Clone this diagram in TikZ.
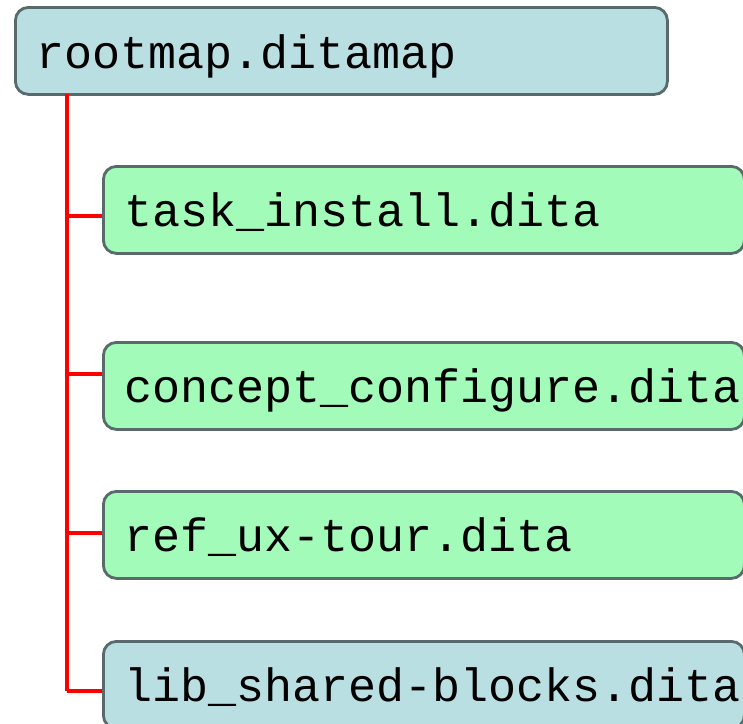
\documentclass[tikz,border=0pt]{standalone}
\usepackage{fontspec}
\setmonofont{Liberation Mono}
\definecolor{bluefill}{HTML}{B9DFE2}
\definecolor{greenfill}{HTML}{A3FBB9}
\definecolor{boxline}{HTML}{586A6A}
\definecolor{treered}{HTML}{FF0000}
\tikzset{
  filebox/.style={draw=boxline, line width=2.8pt, rounded corners=13pt, anchor=north west,
    minimum height=87pt, inner sep=0pt},
  mapbox/.style={filebox, fill=bluefill},
  topicbox/.style={filebox, fill=greenfill},
  lbl/.style={anchor=base west, inner sep=0pt, font=\ttfamily\fontsize{46.7}{50}\selectfont},
  tree/.style={draw=treered, line width=3.5pt}
}
\begin{document}
\begin{tikzpicture}[x=1pt, y=-1pt]
\useasboundingbox (0,0) rectangle (743,723);
\clip (0,0) rectangle (743,723);
% boxes
\node[mapbox, minimum width=652pt] (root) at (14,6) {};
\node[topicbox, minimum width=641pt] (task) at (102,165) {};
\node[topicbox, minimum width=641pt] (concept) at (102,341) {};
\node[topicbox, minimum width=641pt] (ref) at (102,490) {};
\node[mapbox, minimum width=641pt] (lib) at (102,640) {};
% labels
\node[lbl] (rootT) at (36,68) {rootmap.ditamap};
\node[lbl] (taskT) at (124,226) {task\_install.dita};
\node[lbl] (conceptT) at (124,402) {concept\_configure.dita};
\node[lbl] (refT) at (124,551) {ref\_ux-tour.dita};
\node[lbl] (libT) at (124,701) {lib\_shared-blocks.dita};
% tree connectors
\coordinate (trunkTop) at (67,94);
\coordinate (jTask) at (67,216);
\coordinate (jConcept) at (67,374);
\coordinate (jRef) at (67,533);
\coordinate (jLib) at (67,691);
\draw[tree] (trunkTop) -- (jLib);
\draw[tree] (jTask) -- (jTask -| task.west);
\draw[tree] (jConcept) -- (jConcept -| concept.west);
\draw[tree] (jRef) -- (jRef -| ref.west);
\draw[tree] (jLib) -- (jLib -| lib.west);
\end{tikzpicture}
\end{document}
